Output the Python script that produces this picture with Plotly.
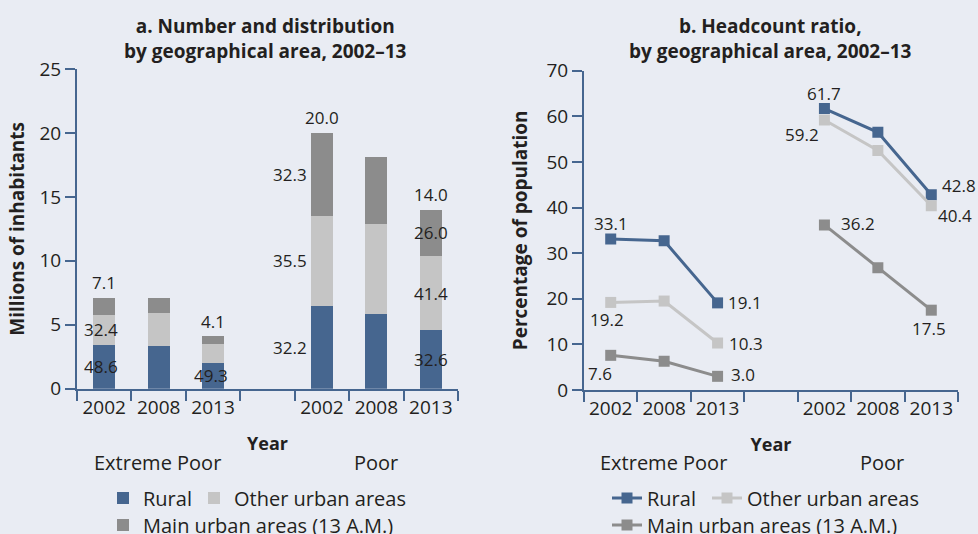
import plotly.graph_objects as go

# ---------------- data ----------------
groups = ["Extreme Poor", "Poor"]
years = ["2002", "2008", "2013"]

# Panel a: millions of inhabitants (Extreme Poor 2002/2008/2013, Poor 2002/2008/2013)
rural_millions = [3.45, 3.35, 2.00, 6.44, 5.85, 4.56]
other_millions = [2.30, 2.60, 1.50, 7.10, 7.00, 5.80]
main_millions = [1.35, 1.15, 0.60, 6.46, 5.25, 3.64]
total_labels = [7.1, None, 4.1, 20.0, None, 14.0]
rural_share = [48.6, None, 49.3, 32.2, None, 32.6]
other_share = [32.4, None, None, 35.5, None, 41.4]
main_share = [None, None, None, 32.3, None, 26.0]

# Panel b: headcount ratio (% of population)
ep_rural = [33.1, 32.7, 19.1]
ep_other = [19.2, 19.5, 10.3]
ep_main = [7.6, 6.3, 3.0]
p_rural = [61.7, 56.5, 42.8]
p_other = [59.2, 52.5, 40.4]
p_main = [36.2, 26.8, 17.5]

series_names = ["Rural", "Other urban areas", "Main urban areas (13 A.M.)"]

# ---------------- styles ----------------
FONT = "Open Sans"
TXT = "#231F20"
BG = "#E9ECF3"
AX = "#46668F"
C_RURAL = "#46668F"
C_OTHER = "#C5C5C5"
C_MAIN = "#8C8C8C"
colors = [C_RURAL, C_OTHER, C_MAIN]
W, H = 978, 534

def px_x(p):
    return p / W

def px_y(p):
    return 1 - p / H

cats = [f"{g} {y}" for g in groups for y in years]
gap = " "
axis_cats = cats[:3] + [gap] + cats[3:]
tick_text = years + [""] + years

fig = go.Figure()

# ---- panel a: stacked bars ----
bar_vals = [rural_millions, other_millions, main_millions]
bar_legends = ["legend", "legend2", "legend3"]
for name, vals, col, lg in zip(series_names, bar_vals, colors, bar_legends):
    fig.add_trace(go.Bar(
        x=cats, y=vals, name=name, marker=dict(color=col, line=dict(width=0)),
        width=0.4, xaxis="x", yaxis="y", legend=lg, hoverinfo="skip",
    ))

annotations = []
bar_label_dx = [-3, 0, -2, -32, 0, 0]
for i, c in enumerate(cats):
    r, o, m = rural_millions[i], other_millions[i], main_millions[i]
    centers = [r / 2, r + o / 2, r + o + m / 2]
    shares = [rural_share[i], other_share[i], main_share[i]]
    for s, yc in zip(shares, centers):
        if s is not None:
            annotations.append(dict(
                x=c, y=yc, xref="x", yref="y", text=f"{s:.1f}", showarrow=False,
                xshift=bar_label_dx[i], font=dict(size=17, color=TXT, family=FONT)))
    if total_labels[i] is not None:
        annotations.append(dict(
            x=c, y=r + o + m, xref="x", yref="y", text=f"{total_labels[i]:.1f}",
            showarrow=False, yshift=15, font=dict(size=17, color=TXT, family=FONT)))

# ---- panel b: lines ----
line_vals = [(ep_rural, p_rural), (ep_other, p_other), (ep_main, p_main)]
line_legends = ["legend4", "legend5", "legend6"]
for name, (ep, p), col, lg in zip(series_names, line_vals, colors, line_legends):
    fig.add_trace(go.Scatter(
        x=axis_cats, y=ep + [None] + p, name=name, mode="lines+markers",
        line=dict(color=col, width=3), marker=dict(symbol="square", size=11, color=col),
        connectgaps=False, xaxis="x2", yaxis="y2", legend=lg, hoverinfo="skip",
    ))

# label offsets (xshift, yshift) for first and last point of each group
line_label_offsets = [
    {(0, 0): (0, 16), (0, 2): (27, 0), (1, 0): (0, 15), (1, 2): (28, 9)},
    {(0, 0): (-4, -17), (0, 2): (28, 0), (1, 0): (-22, -15), (1, 2): (24, -10)},
    {(0, 0): (-11, -18), (0, 2): (25, 2), (1, 0): (34, 1), (1, 2): (-2, -18)},
]
for s_idx, (ep, p) in enumerate(line_vals):
    for g_idx, vals in enumerate((ep, p)):
        for k in (0, 2):
            dx, dy = line_label_offsets[s_idx][(g_idx, k)]
            annotations.append(dict(
                x=f"{groups[g_idx]} {years[k]}", y=vals[k], xref="x2", yref="y2",
                text=f"{vals[k]:.1f}", showarrow=False, xshift=dx, yshift=dy,
                font=dict(size=17, color=TXT, family=FONT)))

# titles
titles = ["<b>a. Number and distribution<br>by geographical area, 2002–13</b>",
          "<b>b. Headcount ratio,<br>by geographical area, 2002–13</b>"]
for t, xc in zip(titles, [265, 770]):
    annotations.append(dict(x=px_x(xc), y=px_y(38.5), xref="paper", yref="paper", text=t,
                            showarrow=False, xanchor="center", yanchor="middle",
                            font=dict(size=19, color=TXT, family=FONT)))

# group labels under the axes
for g, xc in zip(groups * 2, [157, 376, 663, 882]):
    annotations.append(dict(x=px_x(xc), y=px_y(462), xref="paper", yref="paper", text=g,
                            showarrow=False, xanchor="center", yanchor="middle",
                            font=dict(size=20, color=TXT, family=FONT)))

def xaxis_cfg(domain, anchor):
    return dict(
        domain=domain, anchor=anchor, type="category", categoryorder="array",
        categoryarray=axis_cats, range=[-0.5, 6.5], tickmode="array", tickvals=axis_cats,
        ticktext=tick_text, tickson="boundaries", ticks="outside", ticklen=10, tickwidth=2,
        tickangle=0, tickcolor=AX, showline=True, linecolor=AX, linewidth=2, showgrid=False,
        zeroline=False, automargin=False, tickfont=dict(size=19, color=TXT, family=FONT),
        title=dict(text="<b>Year</b>", font=dict(size=18, color=TXT, family=FONT), standoff=19),
    )

def yaxis_cfg(domain, anchor, rng, dtick, title, standoff):
    return dict(
        domain=domain, anchor=anchor, range=rng, dtick=dtick, ticks="outside", ticklen=10,
        tickwidth=2, tickcolor=AX, showline=True, linecolor=AX, linewidth=2,
        showgrid=False, zeroline=False, automargin=False,
        tickfont=dict(size=19, color=TXT, family=FONT),
        title=dict(text=f"<b>{title}</b>", font=dict(size=19, color=TXT, family=FONT),
                   standoff=standoff),
    )

legend_common = dict(orientation="h", xanchor="left", yanchor="middle",
                     bgcolor="rgba(0,0,0,0)", font=dict(size=20, color=TXT, family=FONT),
                     itemclick=False, itemdoubleclick=False)

# legend item positions (left edge of each legend entry, row centre) in pixels
legend_pos = [(103, 498), (194, 498), (103, 525), (607, 498), (707, 498), (607, 525)]
legend_layout = {}
for lg, (lx, ly) in zip(bar_legends + line_legends, legend_pos):
    legend_layout[lg] = dict(x=px_x(lx), y=px_y(ly), **legend_common)

fig.update_layout(
    width=W, height=H, margin=dict(l=0, r=0, t=0, b=0, autoexpand=False),
    paper_bgcolor=BG, plot_bgcolor=BG, barmode="stack", showlegend=True,
    font=dict(family=FONT, color=TXT, size=18),
    xaxis=xaxis_cfg([px_x(77), px_x(458)], "y"),
    yaxis=yaxis_cfg([px_y(388.7), px_y(69)], "x", [0, 25], 5, "Millions of inhabitants", 10),
    xaxis2=xaxis_cfg([px_x(584), px_x(958)], "y2"),
    yaxis2=yaxis_cfg([px_y(390), px_y(70.7)], "x2", [0, 70], 10, "Percentage of population", 14),
    annotations=annotations,
    **legend_layout,
)

fig.write_html("out.html", config={"displayModeBar": False},
               post_script="document.body.style.margin='0';document.body.style.overflow='hidden';")
